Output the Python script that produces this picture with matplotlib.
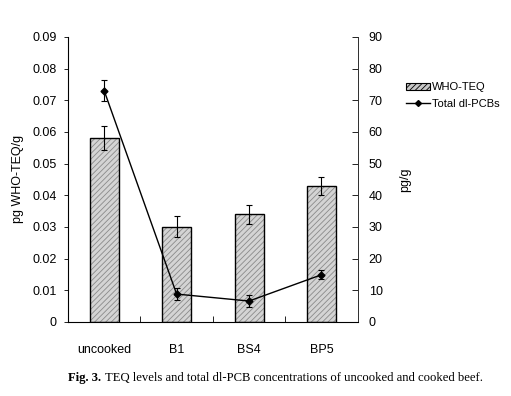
import matplotlib
matplotlib.use("Agg")
import matplotlib.pyplot as plt
import numpy as np
from matplotlib.lines import Line2D
from matplotlib.patches import Patch

# data
categories = ['uncooked', 'B1', 'BS4', 'BP5']
teq = [0.058, 0.030, 0.034, 0.043]
teq_err = [0.0037, 0.0033, 0.003, 0.0029]
pcb = [73.0, 8.8, 6.6, 14.9]
pcb_err = [3.3, 2.0, 1.8, 1.5]
left_ticks = [0, 0.01, 0.02, 0.03, 0.04, 0.05, 0.06, 0.07, 0.08, 0.09]
right_ticks = [0, 10, 20, 30, 40, 50, 60, 70, 80, 90]

plt.rcParams['font.family'] = ['Liberation Sans', 'DejaVu Sans']
plt.rcParams['hatch.linewidth'] = 0.6

fig = plt.figure(figsize=(5.11, 3.96), dpi=100)
ax = fig.add_axes([0.133, 0.187, 0.567, 0.72])
x = np.arange(len(categories))

#hatched fill first, then the black outline on top
ax.bar(x, teq, width=0.4, color='#d4d4d4', edgecolor='#8a8a8a', hatch='//////', linewidth=0, zorder=2)
ax.bar(x, teq, width=0.4, fill=False, edgecolor='black', linewidth=1.0, zorder=3)
ax.errorbar(x, teq, yerr=teq_err, fmt='none', ecolor='black', elinewidth=0.8, capsize=2.5, capthick=0.8, zorder=4)

ax.set_xlim(-0.5, 3.5)
ax.set_ylim(0, 0.09)
ax.set_yticks(left_ticks)
ax.set_yticklabels(['0'] + ['%.2f' % v for v in left_ticks[1:]], fontsize=9)
ax.set_ylabel('pg WHO-TEQ/g', fontsize=9, labelpad=6)
ax.set_xticks([0.5, 1.5, 2.5])
ax.set_xticklabels([])
ax.tick_params(axis='x', direction='in', length=4, width=0.6)
ax.tick_params(axis='y', direction='out', length=3, width=0.6, pad=5)
for i, c in enumerate(categories):
	ax.text(i, -0.0088, c, ha='center', va='center', fontsize=9)
ax.spines['top'].set_visible(False)
for s in ['left', 'bottom', 'right']:
	ax.spines[s].set_linewidth(0.7)
	ax.spines[s].set_color('#333333')

ax2 = ax.twinx()
ax2.errorbar(x, pcb, yerr=pcb_err, fmt='-D', color='black', markersize=3.5, linewidth=1.0,
	elinewidth=0.8, capsize=2.5, capthick=0.8, zorder=5)
ax2.set_ylim(0, 90)
ax2.set_yticks(right_ticks)
ax2.set_yticklabels([str(v) for v in right_ticks], fontsize=9)
ax2.tick_params(axis='y', direction='in', length=4, width=0.6, pad=8)
ax2.set_ylabel('pg/g', fontsize=9, rotation=90, labelpad=12)
ax2.spines['top'].set_visible(False)
ax2.spines['right'].set_linewidth(0.7)
ax2.spines['right'].set_color('#333333')

handles = [Patch(facecolor='#c8c8c8', edgecolor='black', hatch='//////', linewidth=0.8),
	Line2D([0], [0], color='black', marker='D', markersize=3, linewidth=1)]
fig.legend(handles, ['WHO-TEQ', 'Total dl-PCBs'], loc='upper left', bbox_to_anchor=(0.775, 0.817),
	frameon=False, fontsize=8, handlelength=2.2, handleheight=0.7, handletextpad=0.1, labelspacing=0.6)

# caption: bold label then the text right after it
renderer = fig.canvas.get_renderer()
lab = fig.text(0.133, 0.037, 'Fig. 3.', fontsize=9.1, fontweight='bold', family='Liberation Serif')
bb = lab.get_window_extent(renderer=renderer)
fig.text((bb.x1 + 4) / fig.bbox.width, 0.037,
	'TEQ levels and total dl-PCB concentrations of uncooked and cooked beef.',
	fontsize=9.1, family='Liberation Serif')

fig.savefig('out.png', dpi=100)
